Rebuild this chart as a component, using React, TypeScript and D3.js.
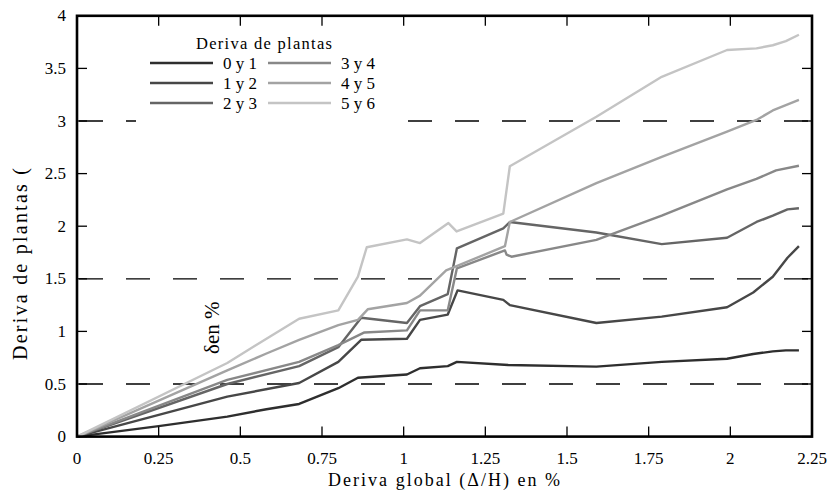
import React from "react";
import * as d3 from "d3";

type P = [number, number];

const seriesNames = ["0 y 1", "1 y 2", "2 y 3", "3 y 4", "4 y 5", "5 y 6"];
const seriesColors = ["#2e2e2e", "#474747", "#656565", "#888888", "#a3a3a3", "#c4c4c4"];

const s01: P[] = [[0,0],[0.25,0.1],[0.46,0.19],[0.58,0.26],[0.68,0.31],[0.8,0.46],[0.86,0.56],[1.01,0.59],[1.05,0.65],[1.135,0.67],[1.163,0.71],[1.32,0.68],[1.59,0.665],[1.79,0.71],[1.99,0.74],[2.07,0.785],[2.13,0.81],[2.17,0.82],[2.21,0.82]];
const s12: P[] = [[0,0],[0.46,0.38],[0.68,0.51],[0.8,0.71],[0.87,0.92],[1.01,0.93],[1.05,1.11],[1.135,1.16],[1.165,1.39],[1.305,1.30],[1.325,1.25],[1.59,1.08],[1.79,1.14],[1.99,1.23],[2.07,1.37],[2.13,1.52],[2.175,1.70],[2.21,1.81]];
const s23: P[] = [[0,0],[0.46,0.50],[0.68,0.67],[0.8,0.85],[0.87,1.13],[1.01,1.08],[1.05,1.24],[1.135,1.355],[1.163,1.79],[1.305,1.98],[1.325,2.04],[1.59,1.94],[1.79,1.83],[1.99,1.89],[2.08,2.04],[2.13,2.1],[2.175,2.16],[2.21,2.17]];
const s34: P[] = [[0,0],[0.46,0.54],[0.68,0.71],[0.8,0.87],[0.88,0.99],[1.01,1.01],[1.05,1.20],[1.135,1.20],[1.163,1.60],[1.31,1.77],[1.315,1.73],[1.33,1.71],[1.59,1.87],[1.79,2.1],[1.99,2.35],[2.08,2.45],[2.14,2.53],[2.21,2.575]];
const s45: P[] = [[0,0],[0.46,0.63],[0.58,0.79],[0.68,0.92],[0.8,1.06],[0.86,1.11],[0.89,1.21],[1.01,1.27],[1.05,1.34],[1.13,1.58],[1.162,1.62],[1.31,1.81],[1.325,2.04],[1.59,2.41],[1.79,2.66],[1.99,2.9],[2.08,3.01],[2.13,3.10],[2.21,3.2]];
const s56: P[] = [[0,0],[0.46,0.70],[0.59,0.95],[0.68,1.12],[0.8,1.2],[0.86,1.52],[0.887,1.80],[1.01,1.875],[1.05,1.84],[1.137,2.03],[1.162,1.95],[1.305,2.12],[1.325,2.57],[1.59,3.04],[1.79,3.42],[1.99,3.675],[2.08,3.69],[2.13,3.72],[2.17,3.76],[2.21,3.82]];

const allSeries = [s01, s12, s23, s34, s45, s56];

const xTicks = [0, 0.25, 0.5, 0.75, 1, 1.25, 1.5, 1.75, 2, 2.25];
const xTickLabels = ["0", "0.25", "0.5", "0.75", "1", "1.25", "1.5", "1.75", "2", "2.25"];
const yTicks = [0, 0.5, 1, 1.5, 2, 2.5, 3, 3.5, 4];
const yTickLabels = ["0", "0.5", "1", "1.5", "2", "2.5", "3", "3.5", "4"];
const refLines = [0.5, 1.5, 3];

const FONT = "'Liberation Serif', 'Times New Roman', serif";

export default function App() {
  const x = d3.scaleLinear().domain([0, 2.25]).range([77, 812]);
  const y = d3.scaleLinear().domain([0, 4]).range([436.6, 15.8]);
  const line = d3.line<P>().x((d) => x(d[0])).y((d) => y(d[1]));
  const L = x(0), R = x(2.25), B = y(0), T = y(4);
  const tick = 10;

  return (
    <svg width={830} height={491} style={{ position: "absolute", left: 0, top: 0, background: "#fff" }}>
      <rect x={0} y={0} width={830} height={491} fill="#fff" />
      {refLines.map((v) => (
        <line key={v} x1={L + 2} x2={R} y1={y(v)} y2={y(v)} stroke="#000" strokeWidth={1.3} strokeDasharray="24 23" />
      ))}
      {allSeries.map((s, i) => (
        <path key={i} d={line(s) || ""} fill="none" stroke={seriesColors[i]} strokeWidth={2.4} strokeLinejoin="round" />
      ))}
      {/* legend */}
      <rect x={136} y={30} width={258} height={93} fill="#fff" />
      <text x={264} y={49} fontFamily={FONT} fontSize={16.5} textAnchor="middle" fill="#000" textLength={136} lengthAdjust="spacing">Deriva de plantas</text>
      {seriesNames.map((n, i) => {
        const col = Math.floor(i / 3);
        const row = i % 3;
        const lx = col === 0 ? 150 : 268;
        const ly = 63 + row * 20;
        return (
          <g key={n}>
            <line x1={lx} x2={lx + 63} y1={ly} y2={ly} stroke={seriesColors[i]} strokeWidth={2.4} />
            <text x={lx + 73} y={ly + 5.5} fontFamily={FONT} fontSize={17} fill="#000">{n}</text>
          </g>
        );
      })}
      {/* ticks */}
      {xTicks.map((v) => (
        <g key={"xt" + v}>
          <line x1={x(v)} x2={x(v)} y1={B} y2={B - tick} stroke="#000" strokeWidth={1.3} />
          <line x1={x(v)} x2={x(v)} y1={T} y2={T + tick} stroke="#000" strokeWidth={1.3} />
        </g>
      ))}
      {yTicks.map((v) => (
        <g key={"yt" + v}>
          <line x1={L} x2={L + tick} y1={y(v)} y2={y(v)} stroke="#000" strokeWidth={1.3} />
          <line x1={R} x2={R - tick} y1={y(v)} y2={y(v)} stroke="#000" strokeWidth={1.3} />
        </g>
      ))}
      <rect x={L} y={T} width={R - L} height={B - T} fill="none" stroke="#000" strokeWidth={2.6} />
      {xTicks.map((v, i) => (
        <text key={"xl" + v} x={x(v)} y={464} fontFamily={FONT} fontSize={17} textAnchor="middle" fill="#000">{xTickLabels[i]}</text>
      ))}
      {yTicks.map((v, i) => (
        <text key={"yl" + v} x={66} y={y(v) + 5.5} fontFamily={FONT} fontSize={17} textAnchor="end" fill="#000">{yTickLabels[i]}</text>
      ))}
      <text x={444} y={486} fontFamily={FONT} fontSize={18} textAnchor="middle" fill="#000" textLength={232} lengthAdjust="spacing">Deriva global (Δ/H) en %</text>
      <text transform="translate(27,264) rotate(-90)" fontFamily={FONT} fontSize={20} textAnchor="middle" fill="#000" textLength={192} lengthAdjust="spacing">Deriva de plantas (</text>
      <text transform="translate(219,354) rotate(-90)" fontFamily={FONT} fontSize={21} textAnchor="start" fill="#000">δen %</text>
    </svg>
  );
}
